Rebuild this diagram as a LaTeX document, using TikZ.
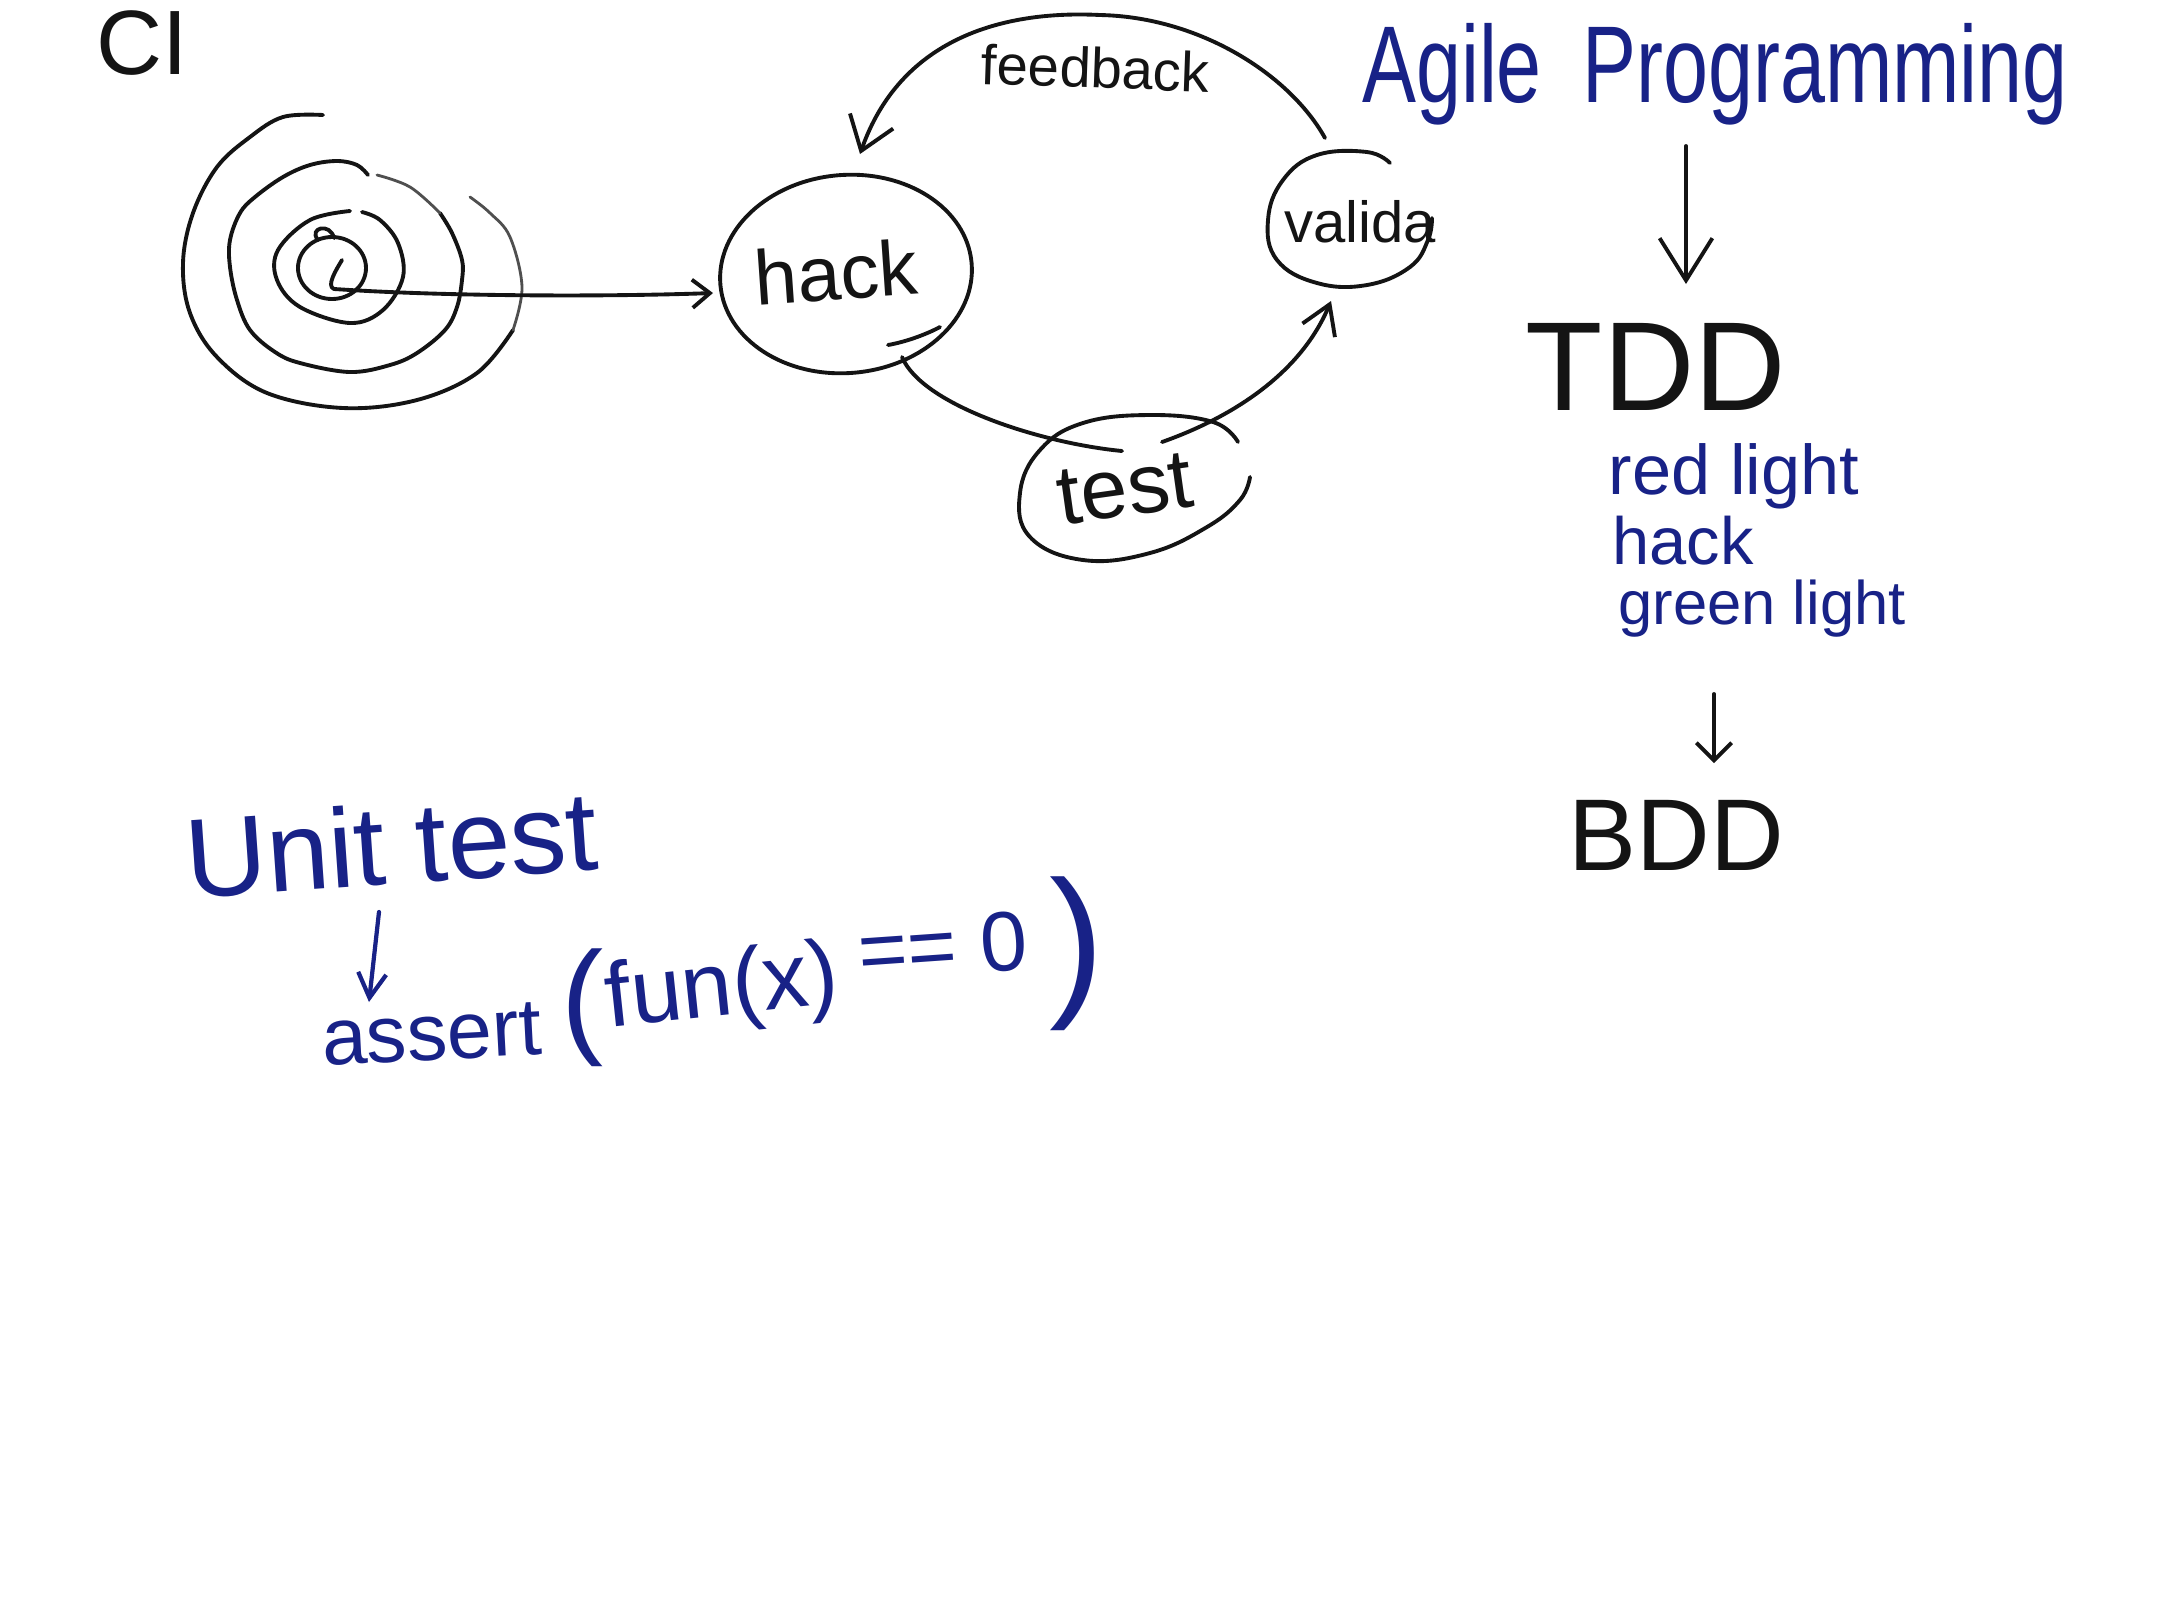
\documentclass[tikz,border=0pt]{standalone}
\usepackage{fontspec}
\setmainfont{Liberation Sans}
\usetikzlibrary{arrows.meta,shapes.geometric}
\definecolor{ink}{RGB}{20,20,20}
\definecolor{blueink}{RGB}{24,34,135}
\begin{document}
\begin{tikzpicture}[x=0.01cm,y=-0.01cm,
  pen/.style={draw=ink,line width=1.1pt,line cap=round,line join=round},
  lightpen/.style={draw=ink!75,line width=0.8pt,line cap=round,line join=round},
  bluepen/.style={draw=blueink,line width=1.2pt,line cap=round,line join=round},
  txt/.style={inner sep=0pt,text=ink},
  btxt/.style={inner sep=0pt,text=blueink},
  ring/.style={ellipse,inner sep=0pt}]
\useasboundingbox[fill=white] (0,0) rectangle (2184,1608);

% ---------- CI ----------
\node[txt,anchor=base,font=\fontsize{26}{26}\selectfont] (ci) at (142,74) {CI};

% ---------- spiral ----------
\draw[pen] plot[smooth,tension=0.6] coordinates {(323,115) (283,117) (250,137) (217,167) (193,213) (183,263) (190,313) (217,357) (267,393) (343,408) (417,400) (477,373) (513,330)};
\draw[lightpen] plot[smooth,tension=0.6] coordinates {(513,330) (522,287) (510,237) (490,213) (470,197)};
\draw[pen] plot[smooth,tension=0.6] coordinates {(368,175) (357,165) (337,161) (310,165) (283,177) (255,197) (240,213) (230,240) (230,267) (237,300) (250,330) (275,352) (300,363) (350,372) (390,365) (417,353) (445,330) (457,307) (462,280) (462,260) (452,233) (440,213)};
\draw[lightpen] plot[smooth,tension=0.6] coordinates {(440,213) (410,187) (377,175)};
\draw[pen] plot[smooth,tension=0.6] coordinates {(350,211) (310,220) (278,250) (277,280) (300,307) (350,323) (383,310) (403,277) (398,243) (380,220) (362,212)};
\draw[pen] (332,268) ellipse [x radius=34,y radius=31];
\draw[pen] (318,240) .. controls (308,228) and (330,222) .. (334,238);
\draw[pen] (342,260) .. controls (336,270) and (326,286) .. (334,289) -- (350,290);
\coordinate (core) at (350,290);

% ---------- hack ----------
\node[ring,pen,minimum width=2.52cm,minimum height=1.98cm,rotate=5] (hackE) at (846,274) {};
\draw[pen] (888,345) .. controls (905,342) and (925,335) .. (940,327);
\node[txt,font=\fontsize{22}{22}\selectfont,rotate=4] (hack) at (836,272) {hack};
\coordinate (hackIn) at (713,293);
\draw[pen,-{Straight Barb[length=5pt,width=8pt]}] (core) .. controls (450,296) and (600,297) .. (hackIn);

% ---------- validate ----------
\node[ring,minimum width=1.66cm,minimum height=1.35cm] (valE) at (1350,219) {};
\draw[pen] plot[smooth,tension=0.7] coordinates {(1390,163) (1367,152) (1317,155) (1283,180) (1268,220) (1277,260) (1317,283) (1367,285) (1410,267) (1428,240) (1432,218)};
\node[txt,font=\fontsize{16.5}{16.5}\selectfont] (valida) at (1360,222) {valida};

% ---------- test ----------
\node[ring,minimum width=2.3cm,minimum height=1.45cm,rotate=10] (testE) at (1135,488) {};
\draw[pen] plot[smooth,tension=0.7] coordinates {(1238,442) (1213,422) (1150,415) (1083,423) (1040,450) (1020,493) (1030,537) (1083,560) (1150,553) (1207,527) (1240,500) (1250,477)};
\node[txt,font=\fontsize{24}{24}\selectfont,rotate=8] (test) at (1125,489) {test};

% ---------- cycle connectors ----------
\coordinate (htS) at (902,357);
\coordinate (htE) at (1122,451);
\draw[pen] (htS) .. controls (922,405) and (1040,443) .. (htE);
\coordinate (tvS) at (1162,442);
\coordinate (tvE) at (1331,301);
\draw[pen,-{Straight Barb[length=8pt,width=10pt]}] (tvS) .. controls (1230,418) and (1300,375) .. (tvE);
\coordinate (fbS) at (1325,138);
\coordinate (fbTop) at (1100,15);
\coordinate (fbE) at (860,154);
\draw[pen,-{Straight Barb[length=9pt,width=13pt]}] (fbS) .. controls (1290,75) and (1200,17) .. (fbTop) .. controls (1000,10) and (900,40) .. (fbE);
\node[txt,anchor=base,font=\fontsize{16}{16}\selectfont,rotate=-2] (fb) at (1095,88) {feedback};

% ---------- Agile / TDD / BDD ----------
\node[btxt,anchor=base,font=\fontsize{23}{23}\selectfont,yscale=1.35] (agile) at (1715,102) {Agile\hspace{0.5em}Programming};
\coordinate (a1) at (1686,146);
\coordinate (a2) at (1686,284);
\draw[pen,-{Straight Barb[length=12pt,width=15pt]}] (a1) -- (a2);
\node[txt,anchor=base,font=\fontsize{36}{36}\selectfont] (tdd) at (1656,410) {TDD};
\node[btxt,anchor=base,font=\fontsize{20}{20}\selectfont] (red) at (1734,494) {red light};
\node[btxt,anchor=base,font=\fontsize{19}{19}\selectfont] (hack2) at (1683,564) {hack};
\node[btxt,anchor=base,font=\fontsize{17.5}{17.5}\selectfont] (green) at (1762,624) {green light};
\coordinate (b1) at (1714,694);
\coordinate (b2) at (1714,763);
\draw[pen,-{Straight Barb[length=5pt,width=10pt]}] (b1) -- (b2);
\node[txt,anchor=base,font=\fontsize{29}{29}\selectfont] (bdd) at (1676,870) {BDD};

% ---------- Unit test ----------
\node[btxt,anchor=base,font=\fontsize{32}{32}\selectfont,rotate=4] (unit) at (394,884) {Unit test};
\coordinate (u1) at (379,912);
\coordinate (u2) at (369,1002);
\draw[bluepen,-{Straight Barb[length=7pt,width=8pt]}] (u1) -- (u2);
\node[btxt,anchor=base,font=\fontsize{23}{23}\selectfont,rotate=3] (assert) at (433,1060) {assert};
\node[btxt,font=\fontsize{36}{36}\selectfont] (lpar) at (583,1008) {(};
\node[btxt,anchor=base,font=\fontsize{26}{26}\selectfont,rotate=6] (fun) at (725,1015) {fun(x)};
\node[btxt,anchor=base,font=\fontsize{24}{24}\selectfont,rotate=4] (eq) at (945,975) {== 0};
\node[btxt,font=\fontsize{47}{47}\selectfont] (rpar) at (1077,954) {)};
\end{tikzpicture}
\end{document}
